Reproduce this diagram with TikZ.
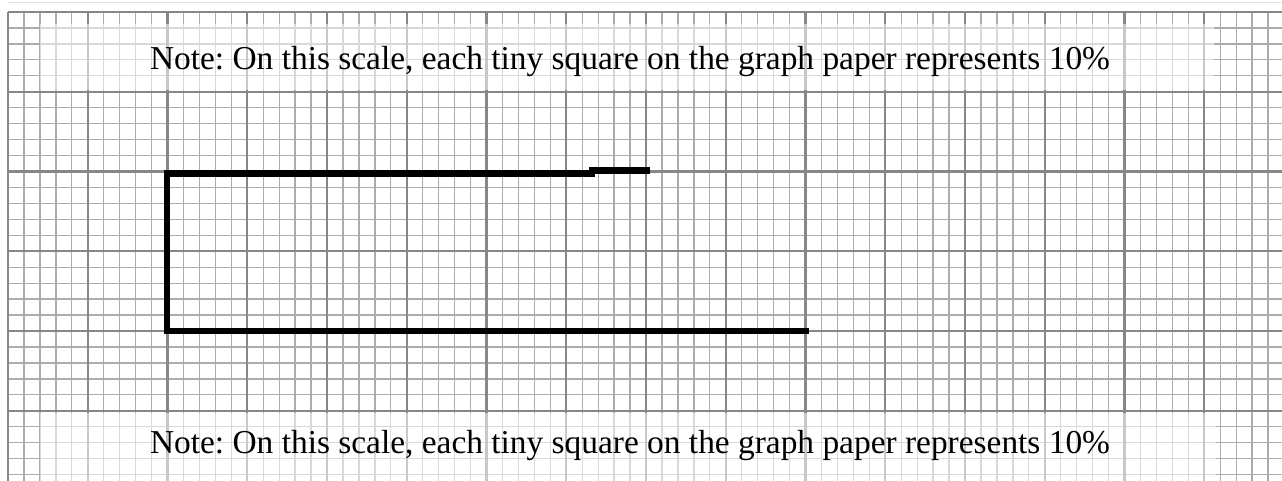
\documentclass[tikz,border=0pt]{standalone}
\usepackage{fontspec}
\setmainfont{Liberation Serif}
\frenchspacing
\definecolor{minorc}{RGB}{172,172,172}
\definecolor{majorc}{RGB}{135,135,135}
\begin{document}
\begin{tikzpicture}[x=1pt,y=-1pt,
  minorline/.style={draw=minorc,line width=1.3pt},
  majorline/.style={draw=majorc,line width=2.4pt},
  veil/.style={fill=white,fill opacity=0.55,draw=none},
  note/.style={font=\fontsize{33.4}{38}\selectfont,inner sep=0pt,text=black,anchor=base},
  thick path/.style={draw=black,line width=6.5pt,line join=miter,line cap=rect}]
\useasboundingbox (0,0) rectangle (1282,481);
\fill[white] (0,0) rectangle (1282,481);
% faint strip at top
\draw[draw=minorc,line width=1pt,opacity=0.35] (8,3) -- (1282,3);
% minor grid
\foreach \k in {0,...,80} {
  \pgfmathsetmacro\xx{8+\k*15.95}
  \draw[minorline] (\xx,12) -- (\xx,481);
}
\foreach \k in {0,...,29} {
  \pgfmathsetmacro\yy{12+\k*15.95}
  \draw[minorline] (8,\yy) -- (1282,\yy);
}
% major grid
\foreach \k in {0,...,16} {
  \pgfmathsetmacro\xx{8+\k*79.75}
  \draw[majorline] (\xx,12) -- (\xx,481);
}
\foreach \k in {0,...,5} {
  \pgfmathsetmacro\yy{12+\k*79.75}
  \draw[majorline] (8,\yy) -- (1282,\yy);
}
% veils behind the notes
\path[veil] (40,24) rectangle (1214,90);
\path[veil] (40,413) rectangle (1216,481);
% thick outline
\draw[thick path] (806,331) -- (167,331) -- (167,173.5) -- (592,173.5) -- (592,170.5) -- (647,170.5);
% notes
\node[note] (top) at (630,69.3) {Note: On this scale, each tiny square on the graph paper represents 10\%};
\node[note] (bottom) at (630,453) {Note: On this scale, each tiny square on the graph paper represents 10\%};
\end{tikzpicture}
\end{document}
